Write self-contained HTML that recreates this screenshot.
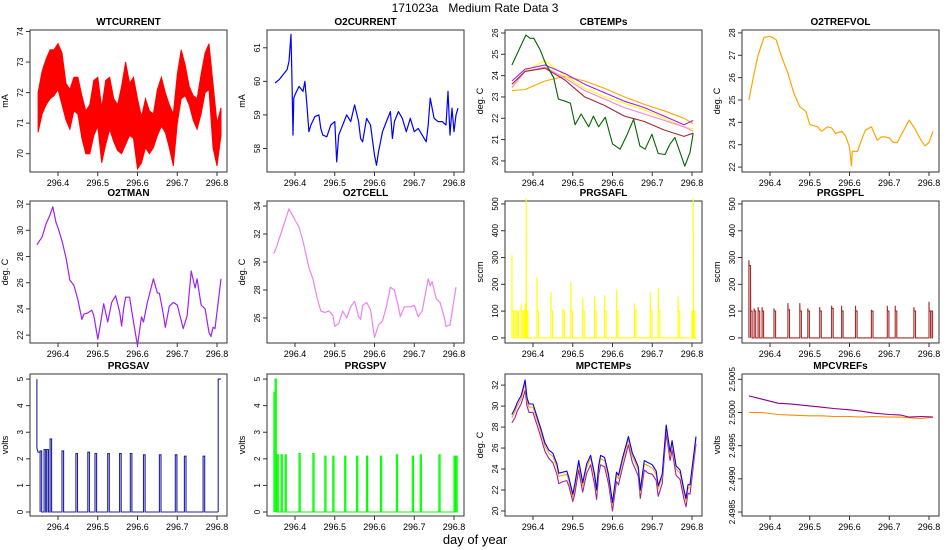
<!DOCTYPE html>
<html><head><meta charset="utf-8"><style>
html,body{margin:0;padding:0;background:#fff}
svg{display:block;font-family:"Liberation Sans",sans-serif}
</style></head><body>
<svg id="c" width="950" height="550" viewBox="0 0 950 550">
<text x="475" y="12" text-anchor="middle" font-size="12" style="white-space:pre">171023a   Medium Rate Data 3</text>
<text x="475" y="544" text-anchor="middle" font-size="13">day of year</text>
</svg>
<script>
// ---------- data ----------
const xTicks = [296.4, 296.5, 296.6, 296.7, 296.8];
const xTickLabels = ["296.4","296.5","296.6","296.7","296.8"];

const wtT = [296.35,296.36,296.37,296.38,296.39,296.40,296.41,296.42,296.43,296.44,296.45,296.46,296.47,296.48,296.49,296.50,296.51,296.52,296.53,296.54,296.55,296.56,296.57,296.58,296.59,296.60,296.61,296.62,296.63,296.64,296.65,296.66,296.67,296.68,296.69,296.70,296.71,296.72,296.73,296.74,296.75,296.76,296.77,296.78,296.79,296.80,296.81];
const wtHi = [72.0,72.7,73.1,73.4,73.4,73.6,73.3,72.3,72.1,72.5,72.5,71.9,71.4,71.6,72.4,72.5,71.5,72.4,72.5,71.8,71.6,72.2,73.0,72.3,72.5,71.8,71.2,71.8,71.4,71.3,72.1,72.5,72.0,71.6,71.3,72.6,73.4,72.9,72.2,71.9,71.8,72.6,73.3,73.6,72.3,71.0,71.5];
const wtLo = [70.7,71.3,71.6,71.8,71.9,72.1,71.6,71.1,70.8,71.4,71.3,70.5,70.0,70.0,70.6,70.9,69.7,70.3,70.8,70.4,70.1,70.0,70.3,70.6,70.5,69.5,69.7,70.2,70.0,70.2,70.6,70.9,70.7,70.2,69.6,71.0,71.8,71.9,71.6,71.1,70.8,71.3,72.0,72.1,70.2,69.6,70.6];

const o2cT = [296.35,296.36,296.37,296.38,296.385,296.39,296.392,296.395,296.397,296.40,296.41,296.42,296.425,296.43,296.435,296.44,296.45,296.46,296.465,296.47,296.48,296.49,296.50,296.505,296.51,296.52,296.53,296.54,296.55,296.56,296.565,296.57,296.58,296.59,296.60,296.605,296.61,296.62,296.63,296.64,296.645,296.65,296.66,296.67,296.68,296.69,296.70,296.71,296.72,296.73,296.735,296.74,296.75,296.76,296.77,296.78,296.785,296.79,296.795,296.80,296.805,296.81];
const o2cV = [59.95,60.05,60.2,60.35,60.6,61.4,60.3,58.4,59.5,59.6,59.85,59.7,60.0,59.3,58.5,58.7,58.95,59.0,58.6,58.4,58.35,58.7,58.8,57.6,58.4,58.7,59.0,58.8,59.3,58.8,58.3,58.2,58.9,58.7,57.8,57.5,57.9,58.5,58.8,59.1,58.3,58.8,59.1,58.9,58.5,58.9,58.5,58.6,58.4,58.2,58.7,59.5,58.9,58.8,58.8,58.7,59.7,58.4,59.2,58.5,59.0,59.2];

const cbGreenT = [296.347,296.382,296.393,296.402,296.418,296.431,296.452,296.464,296.481,296.494,296.506,296.521,296.540,296.552,296.565,296.582,296.600,296.619,296.636,296.653,296.669,296.682,296.699,296.715,296.732,296.745,296.757,296.782,296.795,296.803];
const cbGreenV = [24.5,25.9,25.75,25.75,25.2,24.6,23.9,22.9,22.8,22.7,21.7,22.2,21.6,22.1,21.6,22.05,20.8,20.55,21.2,21.95,20.7,20.55,21.25,20.35,20.3,20.8,21.1,19.75,20.4,21.3];
const cbT = [296.347,296.38,296.43,296.48,296.53,296.58,296.63,296.68,296.73,296.78,296.803];
const cbOrange = [23.3,23.35,23.75,23.97,23.75,23.4,23.0,22.65,22.35,22.0,21.75];
const cbYellow = [23.4,24.2,24.7,24.0,23.4,23.0,22.7,22.4,22.0,21.6,21.5];
const cbPurple = [23.75,24.3,24.5,24.1,23.6,23.2,22.8,22.5,22.1,21.7,21.9];
const cbViolet = [23.45,24.2,24.4,23.9,23.3,22.9,22.5,22.2,21.9,21.6,21.4];
const cbBrown = [23.6,24.2,24.35,23.8,23.0,22.6,22.1,21.85,21.45,21.15,21.3];

const trT = [296.347,296.36,296.37,296.385,296.40,296.415,296.43,296.445,296.46,296.475,296.49,296.50,296.51,296.52,296.53,296.545,296.555,296.565,296.58,296.59,296.60,296.605,296.607,296.62,296.63,296.64,296.655,296.665,296.67,296.68,296.69,296.70,296.71,296.72,296.735,296.75,296.765,296.78,296.79,296.80,296.81];
const trV = [25.0,26.2,27.0,27.8,27.85,27.7,26.9,26.2,25.3,24.7,24.5,23.9,23.85,23.8,23.6,23.8,23.75,23.5,23.6,23.4,22.9,22.05,22.7,22.7,23.2,23.65,23.8,23.4,23.2,23.35,23.35,23.3,23.1,23.1,23.6,24.1,23.7,23.2,22.95,23.1,23.6];

const tmT = [296.347,296.36,296.37,296.38,296.387,296.395,296.40,296.41,296.42,296.43,296.44,296.45,296.46,296.465,296.475,296.485,296.49,296.50,296.505,296.515,296.525,296.535,296.545,296.555,296.56,296.565,296.57,296.58,296.59,296.60,296.61,296.615,296.625,296.64,296.65,296.655,296.665,296.67,296.68,296.69,296.70,296.715,296.725,296.735,296.745,296.75,296.76,296.77,296.78,296.785,296.79,296.795,296.81];
const tmV = [28.9,29.5,30.5,31.2,31.8,30.6,30.2,29.2,27.9,26.2,25.8,24.7,23.2,23.6,23.7,23.9,23.5,21.7,22.5,24.4,23.0,24.5,25.0,23.8,22.7,24.0,24.9,24.9,23.0,21.2,23.4,23.0,24.5,26.3,25.2,25.2,23.6,22.6,24.2,24.5,24.3,22.5,23.5,26.9,25.6,26.3,24.3,24.0,22.2,21.9,22.6,22.5,26.3];

const tcT = [296.347,296.355,296.37,296.385,296.40,296.41,296.42,296.435,296.445,296.455,296.465,296.475,296.485,296.495,296.50,296.51,296.52,296.53,296.54,296.55,296.56,296.565,296.57,296.58,296.59,296.60,296.61,296.62,296.63,296.64,296.65,296.66,296.665,296.675,296.69,296.70,296.71,296.72,296.735,296.74,296.745,296.755,296.765,296.775,296.78,296.79,296.805];
const tcV = [30.6,31.2,32.5,33.8,33.0,32.5,31.5,29.6,28.8,27.5,26.5,26.4,26.5,26.2,25.4,25.6,26.5,26.0,26.8,27.2,26.1,25.9,26.9,27.1,26.6,24.6,25.5,25.8,26.8,28.2,28.0,26.8,26.1,26.8,26.8,26.9,26.1,26.5,28.8,28.3,28.6,27.4,27.1,26.1,25.4,25.5,28.2];

const safT = [296.347,296.355,296.36,296.37,296.375,296.38,296.383,296.41,296.445,296.475,296.495,296.525,296.555,296.58,296.61,296.655,296.695,296.715,296.765,296.80,296.803];
const safPeak = [310,105,100,125,100,130,520,225,170,110,210,150,155,160,180,130,170,185,155,100,520];
const safLevel = [100,100,100,100,100,100,100,100,100,100,100,100,100,100,100,100,100,100,100,100,100];

const spfT = [296.347,296.351,296.36,296.37,296.38,296.41,296.445,296.475,296.495,296.525,296.555,296.58,296.615,296.655,296.695,296.715,296.762,296.80,296.805];
const spfPeak = [290,270,110,115,115,110,130,130,110,115,120,120,120,105,120,120,115,135,100];
const spfLevel = [270,100,100,100,100,100,105,100,100,100,110,100,100,100,100,100,100,100,100];

const savT = [296.355,296.365,296.372,296.38,296.41,296.445,296.475,296.493,296.525,296.555,296.582,296.615,296.655,296.695,296.718,296.765];
const savV = [2.3,2.35,2.35,2.75,2.3,2.2,2.25,2.2,2.2,2.2,2.2,2.15,2.15,2.15,2.1,2.1];

const spvT = [296.347,296.35,296.355,296.365,296.375,296.41,296.445,296.475,296.495,296.525,296.555,296.58,296.615,296.655,296.695,296.715,296.762,296.80,296.805];
const spvV = [4.5,5.0,2.15,2.15,2.15,2.2,2.2,2.1,2.1,2.1,2.1,2.1,2.1,2.15,2.1,2.15,2.15,2.1,2.1];

const mpT = [296.347,296.355,296.36,296.37,296.375,296.38,296.385,296.39,296.40,296.41,296.42,296.43,296.44,296.45,296.46,296.465,296.475,296.485,296.49,296.50,296.505,296.515,296.525,296.535,296.545,296.555,296.56,296.565,296.57,296.58,296.59,296.60,296.61,296.615,296.625,296.64,296.65,296.655,296.665,296.67,296.68,296.69,296.70,296.71,296.715,296.725,296.735,296.745,296.75,296.76,296.77,296.78,296.785,296.79,296.795,296.81];
const mpBlue = [29.2,29.8,30.3,31.0,31.7,32.5,30.8,30.2,30.2,29.0,27.8,26.5,25.8,25.5,24.5,23.6,23.7,23.8,23.2,21.6,22.5,24.8,22.7,24.5,25.3,23.5,22.0,24.3,25.3,25.1,23.5,20.8,23.7,23.4,25.0,27.1,25.5,25.1,24.2,22.0,24.8,24.6,24.4,23.8,22.4,23.5,28.2,25.6,26.7,24.3,23.9,22.0,21.2,22.5,22.5,27.1];
const mpOrange = [28.9,29.5,30.0,30.7,31.4,32.1,30.5,29.9,29.9,28.7,27.5,26.2,25.5,25.2,24.2,23.3,23.4,23.5,22.9,21.3,22.2,24.5,22.4,24.2,25.0,23.2,21.7,24.0,25.0,24.8,23.2,20.5,23.4,23.1,24.7,26.8,25.2,24.8,23.9,21.7,24.5,24.3,24.1,23.5,22.1,23.2,27.9,25.3,26.4,24.0,23.6,21.7,20.9,22.2,22.2,26.8];
const mpPurple = [28.4,28.9,29.5,30.2,30.8,31.5,30.0,29.4,29.4,28.2,27.0,25.7,25.0,24.6,23.5,22.6,22.8,22.9,22.4,20.9,21.6,23.9,21.8,23.6,24.4,22.5,21.1,23.4,24.4,24.2,22.6,20.0,22.8,22.5,24.1,26.3,24.6,24.2,23.3,21.2,23.9,23.6,23.5,22.9,21.4,22.6,27.4,24.8,25.8,23.4,23.0,21.1,20.4,21.7,21.6,26.4];

const vrT = [296.347,296.38,296.42,296.45,296.50,296.53,296.56,296.60,296.63,296.66,296.70,296.73,296.75,296.78,296.81];
const vrPurple = [2.50025,2.50020,2.50014,2.50013,2.50010,2.50008,2.50006,2.50004,2.50002,2.49999,2.49997,2.49996,2.49993,2.49994,2.49993];
const vrOrange = [2.50000,2.50000,2.49997,2.49996,2.49995,2.49995,2.49994,2.49994,2.49993,2.49994,2.49993,2.49993,2.49992,2.49991,2.49993];

// ---------- drawing ----------
const NS = "http://www.w3.org/2000/svg";
const svg = document.getElementById("c");
const colL = [30, 267, 505, 742];
const rowT = [30, 201, 374];
const W = 197, H = 142;

function mk(tag, attrs, parent) {
  const e = document.createElementNS(NS, tag);
  for (const k in attrs) e.setAttribute(k, attrs[k]);
  (parent || svg).appendChild(e);
  return e;
}

function panel(c, r, title, ylab, ticks, tickLabels, ymin, ymax, key) {
  const L = colL[c], T = rowT[r], B = T + H;
  const g = mk("g", {});
  
  
  const xs = v => L + 28 + (v - 296.4) * 397.5;
  const ys = v => B - (v - ymin) / (ymax - ymin) * H;
  const box = mk("rect", {x: L, y: T, width: W, height: H, fill: "none", stroke: "#333", "stroke-width": 1}, g);
  
  
  const tt = mk("text", {x: L + W / 2, y: T - 5, "text-anchor": "middle", "font-size": 10, "font-weight": "bold"}, g);
  tt.textContent = title;
  
  
  const yl = mk("text", {x: 0, y: 0, "text-anchor": "middle", "font-size": 9, transform: `translate(${L - 22},${T + H / 2}) rotate(-90)`}, g);
  yl.textContent = ylab;
  
  
  xTicks.forEach((v, i) => {
    const x = xs(v);
    mk("line", {x1: x, x2: x, y1: B, y2: B + 4, stroke: "#333"}, g);
    const t = mk("text", {x: x, y: B + 14, "text-anchor": "middle", "font-size": 9}, g);
    t.textContent = xTickLabels[i];
    
    
  });
  ticks.forEach((v, i) => {
    const y = ys(v);
    mk("line", {x1: L - 4, x2: L, y1: y, y2: y, stroke: "#333"}, g);
    const t = mk("text", {x: 0, y: 0, "text-anchor": "middle", "font-size": 8, transform: `translate(${L - 7},${y}) rotate(-90)`}, g);
    t.textContent = tickLabels[i];
    
    
  });
  return {g, xs, ys};
}

function line(p, ts, vs, color, name, w) {
  const pts = ts.map((t, i) => p.xs(t).toFixed(1) + "," + p.ys(vs[i]).toFixed(1)).join(" ");
  const e = mk("polyline", {points: pts, fill: "none", stroke: color, "stroke-width": w || 1.1, "stroke-linejoin": "round"}, p.g);
  
  
  return e;
}

function band(p, ts, hi, lo, color, name) {
  const a = ts.map((t, i) => p.xs(t).toFixed(1) + "," + p.ys(hi[i]).toFixed(1));
  const b = ts.map((t, i) => p.xs(t).toFixed(1) + "," + p.ys(lo[i]).toFixed(1)).reverse();
  const e = mk("polygon", {points: a.concat(b).join(" "), fill: color, stroke: color, "stroke-width": 1}, p.g);
  
  
}

function pulses(p, ts, peaks, levels, t0, t1, color, name, wid) {
  let pts = [[t0, 0]];
  ts.forEach((t, i) => {
    pts.push([t, 0], [t, peaks[i]], [t + 0.0005, levels[i]], [t + wid, levels[i]], [t + wid, 0]);
  });
  pts.push([t1, 0]);
  const e = mk("polyline", {points: pts.map(q => p.xs(q[0]).toFixed(1) + "," + p.ys(q[1]).toFixed(1)).join(" "), fill: "none", stroke: color, "stroke-width": 1.1}, p.g);
  
  
}

// Row 1
let p = panel(0, 0, "WTCURRENT", "mA", [70,71,72,73,74], ["70","71","72","73","74"], 69.4, 74.05, "wtcurrent");
band(p, wtT, wtHi, wtLo, "#ff0000", "wtcurrent-series");
p = panel(1, 0, "O2CURRENT", "mA", [58,59,60,61], ["58","59","60","61"], 57.3, 61.53, "o2current");
line(p, o2cT, o2cV, "#0000ff", "o2current-series", 1.2);
p = panel(2, 0, "CBTEMPs", "deg. C", [20,21,22,23,24,25,26], ["20","21","22","23","24","25","26"], 19.48, 26.14, "cbtemps");
line(p, cbT, cbOrange, "#ffa500", "cbtemps-orange-series");
line(p, cbT, cbYellow, "#ffff00", "cbtemps-yellow-series");
line(p, cbT, cbViolet, "#ee82ee", "cbtemps-violet-series");
line(p, cbT, cbPurple, "#a020f0", "cbtemps-purple-series");
line(p, cbT, cbBrown, "#a52a2a", "cbtemps-brown-series");
line(p, cbGreenT, cbGreenV, "#006400", "cbtemps-green-series");
p = panel(3, 0, "O2TREFVOL", "deg. C", [22,23,24,25,26,27,28], ["22","23","24","25","26","27","28"], 21.78, 28.13, "o2trefvol");
line(p, trT, trV, "#ffa500", "o2trefvol-series", 1.2);

// Row 2
p = panel(0, 1, "O2TMAN", "deg. C", [22,24,26,28,30,32], ["22","24","26","28","30","32"], 21.4, 32.24, "o2tman");
line(p, tmT, tmV, "#a020f0", "o2tman-series", 1.2);
p = panel(1, 1, "O2TCELL", "deg. C", [26,28,30,32,34], ["26","28","30","32","34"], 24.21, 34.36, "o2tcell");
line(p, tcT, tcV, "#ee82ee", "o2tcell-series", 1.2);
p = panel(2, 1, "PRGSAFL", "sccm", [0,100,200,300,400,500], ["0","100","200","300","400","500"], -19, 511, "prgsafl");
pulses(p, safT, safPeak, safLevel, 296.347, 296.81, "#ffff00", "prgsafl-series", 0.004);
p = panel(3, 1, "PRGSPFL", "sccm", [0,100,200,300,400,500], ["0","100","200","300","400","500"], -19, 511, "prgspfl");
pulses(p, spfT, spfPeak, spfLevel, 296.347, 296.81, "#a52a2a", "prgspfl-series", 0.004);

// Row 3
p = panel(0, 2, "PRGSAV", "volts", [0,1,2,3,4,5], ["0","1","2","3","4","5"], -0.15, 5.19, "prgsav");
line(p, [296.347,296.347,296.35,296.355], [5,2.4,2.25,2.25], "#2020a0", "prgsav-start");
pulses(p, savT, savV, savV, 296.355, 296.803, "#2020a0", "prgsav-series", 0.004);
line(p, [296.803,296.803,296.81], [0,5,5], "#2020a0", "prgsav-end");
p = panel(1, 2, "PRGSPV", "volts", [0,1,2,3,4,5], ["0","1","2","3","4","5"], -0.15, 5.19, "prgspv");
pulses(p, spvT, spvV, spvV, 296.347, 296.81, "#00ff00", "prgspv-series", 0.003);
p = panel(2, 2, "MPCTEMPs", "deg. C", [20,22,24,26,28,30,32], ["20","22","24","26","28","30","32"], 19.52, 33.06, "mpctemps");
line(p, mpT, mpPurple, "#a020a0", "mpctemps-purple-series");
line(p, mpT, mpOrange, "#ffa500", "mpctemps-orange-series");
line(p, mpT, mpBlue, "#0000ff", "mpctemps-blue-series");
p = panel(3, 2, "MPCVREFs", "volts", [2.4985,2.499,2.4995,2.5,2.5005], ["2.4985","2.4990","2.4995","2.5000","2.5005"], 2.49844, 2.50058, "mpcvrefs");
line(p, vrT, vrOrange, "#ff8c00", "mpcvrefs-orange-series");
line(p, vrT, vrPurple, "#8b008b", "mpcvrefs-purple-series");
</script>
</body></html>
